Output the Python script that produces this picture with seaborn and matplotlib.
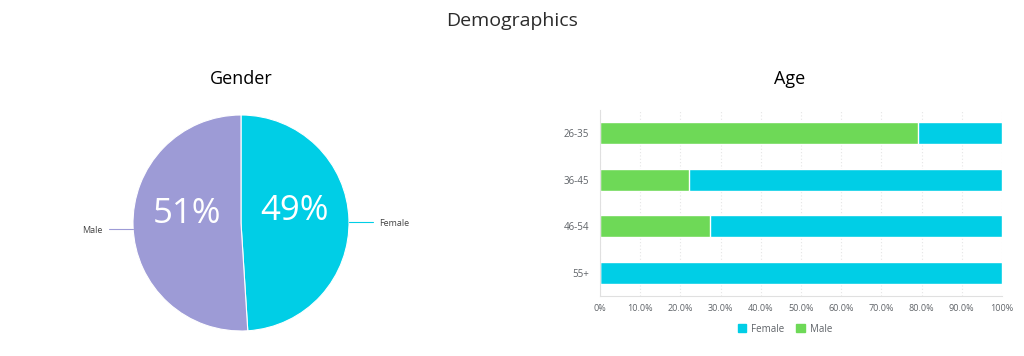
import matplotlib
matplotlib.use("Agg", force=True)
import matplotlib.pyplot as plt
import numpy as np
import pandas as pd
import seaborn as sns
from matplotlib.patches import Patch
from matplotlib.ticker import FixedLocator

gender_labels = ["Female", "Male"]
gender_share = [49, 51]

age_groups = ["26-35", "36-45", "46-54", "55+"]
age_male = [79.0, 22.2, 27.3, 0.0]
age_female = [21.0, 77.8, 72.7, 100.0]
x_ticks = [0, 10, 20, 30, 40, 50, 60, 70, 80, 90, 100]
x_tick_labels = ["0%", "10.0%", "20.0%", "30.0%", "40.0%", "50.0%", "60.0%", "70.0%", "80.0%", "90.0%", "100%"]

CYAN = "#00cee6"
PURPLE = "#9d9bd6"
GREEN = "#6ed957"
TEXT = "#2b2b2b"
TICK = "#5f6368"

sns.set_theme(style="white")
plt.rcParams["font.family"] = ["Open Sans", "DejaVu Sans"]

W, H = 1024, 356
fig = plt.figure(figsize=(W / 100, H / 100), dpi=100)
fig.text(512 / W, 1 - 21 / H, "Demographics", ha="center", va="center", fontsize=14, color=TEXT,
         fontweight="medium")

# pie
cx, cy, r = 241, 223, 108
ax_pie = fig.add_axes([(cx - r) / W, (H - cy - r) / H, 2 * r / W, 2 * r / H])
wedges, _, autotexts = ax_pie.pie(
    gender_share, colors=[CYAN, PURPLE], startangle=90, counterclock=False,
    autopct="%d%%", pctdistance=0.5, wedgeprops=dict(edgecolor="white", linewidth=0.8),
    textprops=dict(color="white", fontsize=25),
)
for t in autotexts:
    x, y = t.get_position()
    t.set_position((x, y + 0.1))
for w, lab in zip(wedges, gender_labels):
    ang = np.deg2rad((w.theta1 + w.theta2) / 2)
    ca, sa = np.cos(ang), np.sin(ang)
    ax_pie.plot([ca * 1.0, ca * 1.22], [sa * 1.0 - 0.02, sa * 1.0 - 0.02], color=w.get_facecolor(),
                lw=0.8, clip_on=False)
    ax_pie.text(ca * 1.28, sa * 1.0 - 0.04, lab, ha="left" if ca > 0 else "right", va="center",
                fontsize=6.5, color="#444444")
ax_pie.set_xlim(-1, 1)
ax_pie.set_ylim(-1, 1)
ax_pie.set_aspect("auto")
fig.text(cx / W, 1 - 79 / H, "Gender", ha="center", va="center", fontsize=13, color="black",
         fontweight="medium")

# stacked bars
df = pd.DataFrame({"age": age_groups, "male": age_male,
                   "total": np.array(age_male) + np.array(age_female)})
ax = fig.add_axes([600 / W, (H - 296) / H, 402 / W, (296 - 110) / H])
sns.barplot(data=df, x="total", y="age", color=CYAN, orient="h", width=0.48, ax=ax, saturation=1)
sns.barplot(data=df, x="male", y="age", color=GREEN, orient="h", width=0.48, ax=ax, saturation=1)
ax.set_xlim(0, 100)
ax.set_ylim(3.5, -0.5)
ax.xaxis.set_major_locator(FixedLocator(x_ticks))
ax.set_xticklabels(x_tick_labels)
ax.set_xlabel("")
ax.set_ylabel("")
ax.tick_params(axis="x", labelsize=6.5, colors=TICK, length=0, pad=6)
ax.tick_params(axis="y", labelsize=7, colors=TICK, length=0, pad=8)
ax.grid(axis="x", color="#e6e6e6", linestyle=(0, (1, 2)), linewidth=0.8)
ax.set_axisbelow(True)
for s in ["top", "right"]:
    ax.spines[s].set_visible(False)
for s in ["left", "bottom"]:
    ax.spines[s].set_color("#e0e0e0")
    ax.spines[s].set_linewidth(0.8)
fig.text(790 / W, 1 - 79 / H, "Age", ha="center", va="center", fontsize=13, color="black",
         fontweight="medium")
handles = [Patch(color=CYAN, label="Female"), Patch(color=GREEN, label="Male")]
fig.legend(handles=handles, loc="center", bbox_to_anchor=(785 / W, 1 - 329 / H), ncol=2,
           frameon=False, fontsize=7, handlelength=0.9, handleheight=0.9, columnspacing=1.2,
           handletextpad=0.5, labelcolor=TICK)

fig.savefig("out.png", dpi=100)
